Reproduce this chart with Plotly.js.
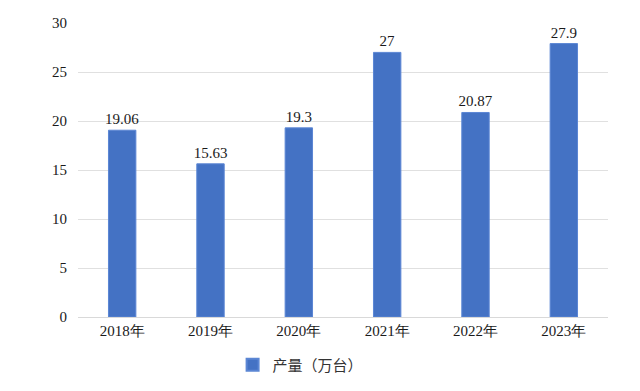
<!DOCTYPE html>
<html>
<head>
<meta charset="utf-8">
<script src="https://cdn.plot.ly/plotly-3.0.1.min.js"></script>
<style>html,body{margin:0;padding:0;background:#fff;}#chart{width:640px;height:391px;}</style>
</head>
<body>
<div id="chart"></div>
<script>
const categories = ["2018年", "2019年", "2020年", "2021年", "2022年", "2023年"];
const production = [19.06, 15.63, 19.3, 27, 20.87, 27.9];
const labels = ["19.06", "15.63", "19.3", "27", "20.87", "27.9"];
const seriesName = "产量（万台）";

const fontFam = "Times New Roman, Liberation Serif, DejaVu Serif, serif";

Plotly.newPlot("chart", [{
  type: "bar",
  x: categories,
  y: production,
  name: seriesName,
  text: labels,
  textposition: "outside",
  constraintext: "none",
  cliponaxis: false,
  textfont: {family: fontFam, size: 15, color: "#1a1a1a"},
  marker: {color: "#4472C4", line: {color: "#5b86d4", width: 1}},
  hoverinfo: "skip"
}], {
  width: 640, height: 391,
  margin: {l: 78, r: 32, t: 23, b: 74, autoexpand: false},
  paper_bgcolor: "#ffffff",
  plot_bgcolor: "#ffffff",
  font: {family: fontFam},
  bargap: 0.69,
  showlegend: true,
  legend: {orientation: "h", x: 0.42, xanchor: "center", y: -0.163, yanchor: "middle",
           font: {family: "Noto Sans CJK SC", size: 15, color: "#333"},
           itemwidth: 30, itemsizing: "constant"},
  xaxis: {
    type: "category",
    tickfont: {family: fontFam, size: 15, color: "#1a1a1a"},
    showline: true, linecolor: "#d9d9d9", linewidth: 1,
    ticks: "", showgrid: false
  },
  yaxis: {
    range: [0, 30], dtick: 5,
    tickfont: {family: fontFam, size: 15, color: "#1a1a1a"},
    showgrid: true, gridcolor: "#e0e0e0", gridwidth: 1,
    zeroline: false, showline: false, ticks: "", ticklabelstandoff: 10
  }
}, {displayModeBar: false, staticPlot: true});
</script>
</body>
</html>
